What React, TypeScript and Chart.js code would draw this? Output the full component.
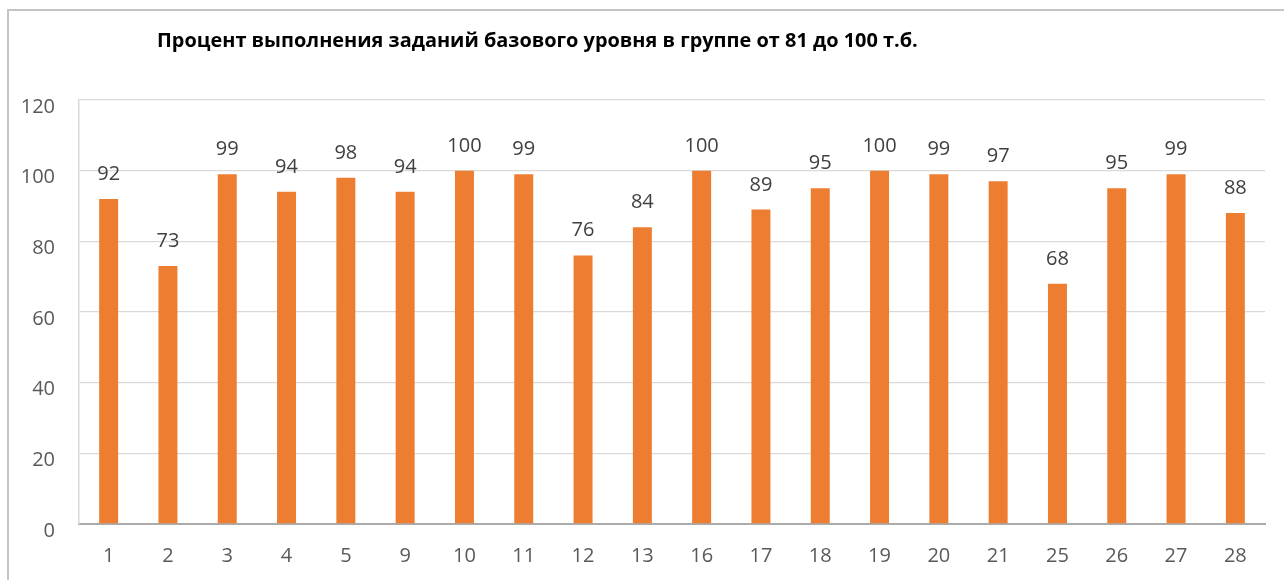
import React, { useEffect, useRef } from "react";
import { Chart, registerables } from "chart.js";

Chart.register(...registerables);

const TITLE = "Процент выполнения заданий базового уровня в группе от 81 до 100 т.б.";
const categories = ["1", "2", "3", "4", "5", "9", "10", "11", "12", "13", "16", "17", "18", "19", "20", "21", "25", "26", "27", "28"];
const values = [92, 73, 99, 94, 98, 94, 100, 99, 76, 84, 100, 89, 95, 100, 99, 97, 68, 95, 99, 88];
const yTicks = [0, 20, 40, 60, 80, 100, 120];

const FONT = "'Open Sans', 'Noto Sans', sans-serif";

const decorPlugin = {
  id: "decor",
  beforeDraw(chart: any) {
    const ctx = chart.ctx;
    ctx.save();
    ctx.fillStyle = "#ffffff";
    ctx.fillRect(0, 0, chart.width, chart.height);
    ctx.strokeStyle = "#c4c4c4";
    ctx.lineWidth = 2;
    ctx.strokeRect(8, 10, chart.width + 50, chart.height + 50);
    ctx.restore();
  },
  afterDraw(chart: any) {
    const ctx = chart.ctx;
    ctx.save();
    // title
    let size = 18;
    ctx.font = `bold ${size}px ${FONT}`;
    const w = ctx.measureText(TITLE).width;
    size = (size * 761) / w;
    ctx.font = `bold ${size}px ${FONT}`;
    ctx.fillStyle = "#000000";
    ctx.textAlign = "left";
    ctx.textBaseline = "alphabetic";
    ctx.fillText(TITLE, 157, 47);
    // data labels
    const meta = chart.getDatasetMeta(0);
    ctx.font = `20px ${FONT}`;
    ctx.fillStyle = "#404040";
    ctx.textAlign = "center";
    meta.data.forEach((el: any, i: number) => {
      ctx.fillText(String(chart.data.datasets[0].data[i]), el.x, el.y - 19);
    });
    ctx.restore();
  },
};

export default function App() {
  const ref = useRef<HTMLCanvasElement | null>(null);
  useEffect(() => {
    if (!ref.current) return;
    const chart = new Chart(ref.current, {
      type: "bar",
      data: {
        labels: categories,
        datasets: [
          {
            data: values,
            backgroundColor: "#ED7D31",
            barPercentage: 0.32,
            categoryPercentage: 1,
          },
        ],
      },
      options: {
        animation: false,
        responsive: false,
        maintainAspectRatio: false,
        layout: { padding: { top: 100, right: 19, left: 0, bottom: 0 } },
        plugins: {
          legend: { display: false },
          tooltip: { enabled: false },
          title: { display: false },
        },
        scales: {
          x: {
            grid: { display: false, drawTicks: false },
            border: { display: true, color: "#ababab", width: 2 },
            ticks: { color: "#595959", font: { family: FONT, size: 20 }, padding: 20, maxRotation: 0, autoSkip: false },
            afterFit(scale: any) {
              scale.height = 56;
            },
          },
          y: {
            min: 0,
            max: 120,
            afterBuildTicks(scale: any) {
              scale.ticks = yTicks.map((v) => ({ value: v }));
            },
            grid: { color: "#d9d9d9", lineWidth: 1.3, drawTicks: false },
            border: { display: true, color: "#d9d9d9", width: 1.5 },
            ticks: { color: "#595959", font: { family: FONT, size: 20 }, padding: 24, labelOffset: 7 },
            afterFit(scale: any) {
              scale.width = 79;
            },
          },
        },
      },
      plugins: [decorPlugin],
    });
    return () => chart.destroy();
  }, []);
  return (
    <div style={{ position: "absolute", left: 0, top: 0, width: 1284, height: 580, overflow: "hidden" }}>
      <canvas ref={ref} width={1284} height={580} style={{ display: "block", width: 1284, height: 580 }} />
    </div>
  );
}
